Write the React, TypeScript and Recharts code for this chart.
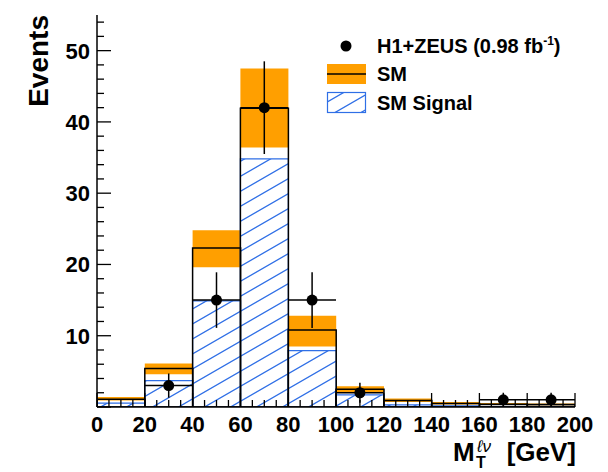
import React from "react";
import { Bar, ComposedChart, ErrorBar, Legend, Scatter, XAxis, YAxis } from "recharts";

// histogram bins, 20 GeV wide
const binCenters = [10, 30, 50, 70, 90, 110, 130, 150, 170, 190];
const smTotal = [1.1, 5.4, 22.3, 41.9, 10.8, 2.5, 0.9, 0.5, 0.4, 0.35];
const smBandLow = [0.9, 4.6, 19.6, 36.4, 8.5, 2.1, 0.7, 0.35, 0.25, 0.2];
const smBandHigh = [1.4, 6.1, 24.8, 47.5, 12.8, 2.9, 1.2, 0.7, 0.55, 0.5];
const smSignal = [0.55, 3.7, 14.9, 34.8, 7.9, 1.7, 0.3, 0.15, 0.1, 0.08];

// H1+ZEUS data points
const dataX = [30, 50, 70, 90, 110, 170, 190];
const dataY = [3, 15, 42, 15, 2, 1, 1];
const dataErr = [1.7, 3.9, 6.5, 3.9, 1.4, 1, 1];
const binHalfWidth = 10;

const xTicks = [0, 5, 10, 15, 20, 25, 30, 35, 40, 45, 50, 55, 60, 65, 70, 75, 80, 85, 90, 95, 100,
  105, 110, 115, 120, 125, 130, 135, 140, 145, 150, 155, 160, 165, 170, 175, 180, 185, 190, 195, 200];
const xLabels = [0, 20, 40, 60, 80, 100, 120, 140, 160, 180, 200];
const yTicks = [0, 2, 4, 6, 8, 10, 12, 14, 16, 18, 20, 22, 24, 26, 28, 30, 32, 34, 36, 38, 40,
  42, 44, 46, 48, 50, 52, 54];
const yLabels = [10, 20, 30, 40, 50];

const ORANGE = "#ff9f00";
const BLUE = "#2f6fe6";
const FONT = "'Liberation Sans', Arial, Helvetica, sans-serif";

const W = 608;
const H = 472;
const margin = { top: 15, right: 33, left: 37, bottom: 35 };
const Y_AXIS_W = 60;
const X_AXIS_H = 30;

const bins = binCenters.map((x, i) => ({
  x,
  sm: smTotal[i],
  lo: smBandLow[i],
  hi: smBandHigh[i],
  sig: smSignal[i]
}));

const points = dataX.map((x, i) => ({ x, y: dataY[i], ey: dataErr[i], ex: binHalfWidth }));

// shallow "/" hatching, like the ROOT fill style
function Hatch({ id }: { id: string }) {
  return (
    <pattern id={id} patternUnits="userSpaceOnUse" width={26} height={15}>
      <path
        d="M-13,22.5 L39,-7.5 M-13,37.5 L39,7.5 M-13,7.5 L39,-22.5"
        stroke={BLUE}
        strokeWidth={1.3}
      />
    </pattern>
  );
}

function XTick(props: any) {
  const { x, y, payload } = props;
  const major = xLabels.includes(payload.value);
  return (
    <g>
      <line x1={x} x2={x} y1={y} y2={y - (major ? 14 : 7)} stroke="#000" strokeWidth={1.3} />
      {major && (
        <text x={x} y={y + 25} textAnchor="middle" fontSize={22} fontWeight="bold" fontFamily={FONT} fill="#000">
          {payload.value}
        </text>
      )}
    </g>
  );
}

function YTick(props: any) {
  const { x, y, payload } = props;
  const major = payload.value % 10 === 0;
  return (
    <g>
      <line x1={x} x2={x + (major ? 14 : 7)} y1={y} y2={y} stroke="#000" strokeWidth={1.3} />
      {yLabels.includes(payload.value) && (
        <text x={x - 7} y={y + 8} textAnchor="end" fontSize={22} fontWeight="bold" fontFamily={FONT} fill="#000">
          {payload.value}
        </text>
      )}
    </g>
  );
}

function XTitle() {
  return (
    <g fontFamily={FONT} fill="#000">
      <text x={453} y={461} fontSize={26} fontWeight="bold">M</text>
      <text x={476} y={468} fontSize={16} fontWeight="bold">
        T
        <tspan x={477} y={452} fontSize={17} fontStyle="italic" fontWeight="normal">ℓν</tspan>
      </text>
      <text x={576} y={461} fontSize={26} fontWeight="bold" textAnchor="end">[GeV]</text>
    </g>
  );
}

function YTitle() {
  return (
    <text
      x={48}
      y={15}
      transform="rotate(-90, 48, 15)"
      textAnchor="end"
      fontSize={28}
      fontWeight="bold"
      fontFamily={FONT}
      fill="#000"
    >
      Events
    </text>
  );
}

function LegendBox() {
  return (
    <svg width={270} height={90} style={{ display: "block" }}>
      <defs>
        <Hatch id="hatchLegend" />
      </defs>
      <g fontFamily={FONT} fontWeight="bold" fontSize={20} fill="#000">
        <circle cx={24} cy={16} r={5.5} fill="#000" />
        <text x={55} y={23}>
          H1+ZEUS (0.98 fb
          <tspan dy={-8} fontSize={12}>-1</tspan>
          <tspan dy={8}>)</tspan>
        </text>
        <rect x={5} y={34} width={39} height={20} fill={ORANGE} />
        <line x1={5} x2={44} y1={44} y2={44} stroke="#000" strokeWidth={1.5} />
        <text x={55} y={51}>SM</text>
        <rect x={5.5} y={62.5} width={38} height={20} fill="url(#hatchLegend)" stroke={BLUE} strokeWidth={1.2} />
        <text x={55} y={80}>SM Signal</text>
      </g>
    </svg>
  );
}

export default function App() {
  return (
    <div style={{ position: "absolute", left: 0, top: 0, background: "#fff" }}>
      <ComposedChart width={W} height={H} data={bins} margin={margin} barCategoryGap={0} barGap={0}>
        <defs>
          <Hatch id="hatchSignal" />
        </defs>
        <XAxis
          xAxisId="x"
          dataKey="x"
          type="number"
          domain={[0, 200]}
          allowDataOverflow
          ticks={xTicks}
          interval={0}
          tick={<XTick />}
          tickLine={false}
          tickSize={0}
          tickMargin={0}
          height={X_AXIS_H}
          axisLine={{ stroke: "#000", strokeWidth: 1.5 }}
          label={<XTitle />}
        />
        <XAxis
          xAxisId="top"
          orientation="top"
          dataKey="x"
          type="number"
          domain={[0, 200]}
          allowDataOverflow
          tick={false}
          tickLine={false}
          height={0}
          axisLine={{ stroke: "#000", strokeWidth: 1.5 }}
        />
        <XAxis xAxisId="sig" dataKey="x" type="number" domain={[0, 200]} allowDataOverflow height={0} hide />
        <XAxis xAxisId="sm" dataKey="x" type="number" domain={[0, 200]} allowDataOverflow height={0} hide />
        <YAxis
          yAxisId="y"
          type="number"
          domain={[0, 55]}
          allowDataOverflow
          ticks={yTicks}
          interval={0}
          tick={<YTick />}
          tickLine={false}
          tickSize={0}
          tickMargin={0}
          width={Y_AXIS_W}
          axisLine={{ stroke: "#000", strokeWidth: 1.5 }}
          label={<YTitle />}
        />
        <YAxis
          yAxisId="right"
          orientation="right"
          type="number"
          domain={[0, 55]}
          allowDataOverflow
          tick={false}
          tickLine={false}
          width={0}
          axisLine={{ stroke: "#000", strokeWidth: 1.5 }}
        />
        <Legend
          content={<LegendBox />}
          layout="horizontal"
          verticalAlign="middle"
          align="center"
          wrapperStyle={{ left: 322, top: 30, width: 270, height: 90 }}
        />
        <Bar
          xAxisId="x"
          yAxisId="y"
          dataKey={(d: any) => [d.lo, d.hi]}
          fill={ORANGE}
          isAnimationActive={false}
        />
        <Bar
          xAxisId="sig"
          yAxisId="y"
          dataKey="sig"
          fill="url(#hatchSignal)"
          stroke={BLUE}
          strokeWidth={1.2}
          isAnimationActive={false}
        />
        <Bar
          xAxisId="sm"
          yAxisId="y"
          dataKey="sm"
          fill="none"
          stroke="#000"
          strokeWidth={1.5}
          isAnimationActive={false}
        />
        <Scatter
          xAxisId="x"
          yAxisId="y"
          data={points}
          dataKey="y"
          isAnimationActive={false}
          shape={(p: any) => <circle cx={p.cx} cy={p.cy} r={5.5} fill="#000" />}
        >
          <ErrorBar dataKey="ey" direction="y" width={0} stroke="#000" strokeWidth={1.5} />
          <ErrorBar dataKey="ex" direction="x" width={0} stroke="#000" strokeWidth={1.5} />
        </Scatter>
      </ComposedChart>
    </div>
  );
}
